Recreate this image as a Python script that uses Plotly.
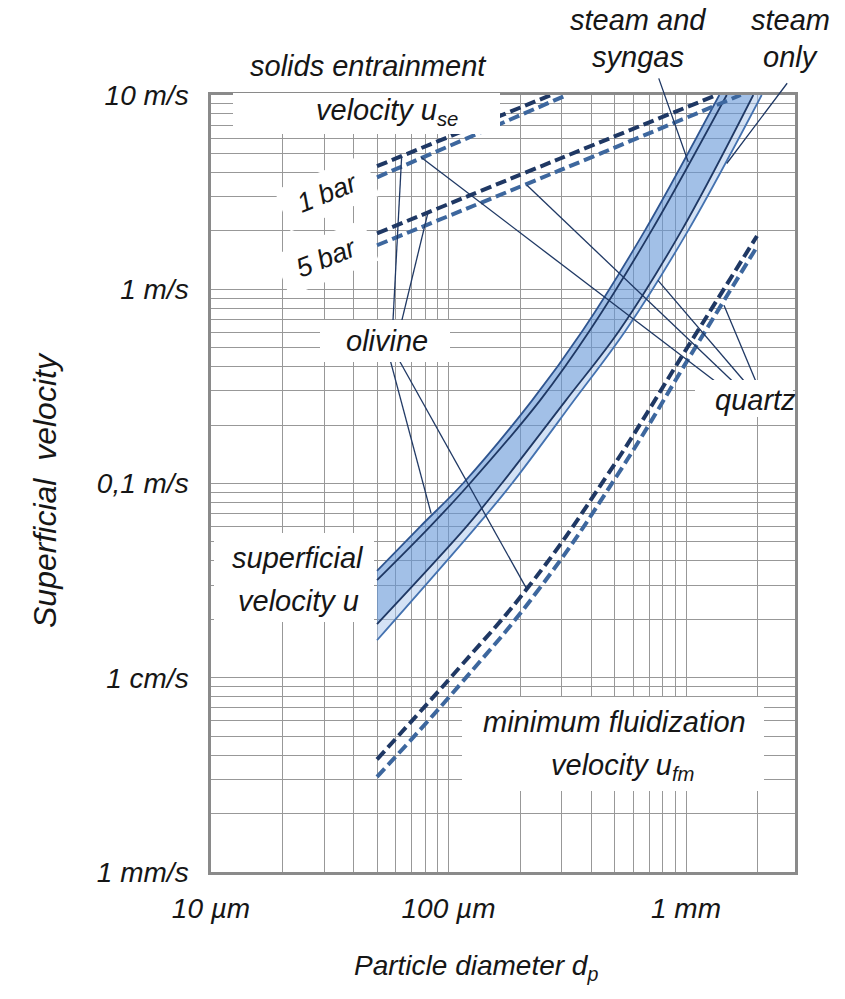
import math
import numpy as np
import plotly.graph_objects as go

# ---------------- data (particle diameter in µm, superficial velocity in m/s) -------------
# superficial velocity band (four boundary curves)
band_a_top_d = [50, 76, 115, 225, 368, 672, 1381]
band_a_top_u = [0.0355, 0.060, 0.100, 0.268, 0.615, 2.01, 10.0]
band_b_top_d = [50, 83.6, 123, 243, 394, 717, 1484]
band_b_top_u = [0.0318, 0.060, 0.100, 0.268, 0.615, 2.01, 10.0]
band_a_bot_d = [50, 119, 167.5, 312, 525, 959, 1920]
band_a_bot_u = [0.0189, 0.060, 0.100, 0.268, 0.615, 2.01, 10.0]
band_b_bot_d = [50, 131, 185, 338, 558, 1022, 2083]
band_b_bot_u = [0.0156, 0.060, 0.100, 0.268, 0.615, 2.01, 10.0]

# minimum fluidization velocity u_fm
umf_olivine_d = [50, 81, 112, 220, 465, 1010, 1990]
umf_olivine_u = [0.0038, 0.0073, 0.0114, 0.0300, 0.1098, 0.498, 1.88]
umf_quartz_d = [50, 112, 243, 511, 1109, 1984]
umf_quartz_u = [0.00309, 0.00925, 0.0291, 0.1093, 0.515, 1.645]

# solids entrainment velocity u_se
use_1bar_olivine_d = [50, 270]
use_1bar_olivine_u = [4.30, 10.0]
use_1bar_quartz_d = [50, 315]
use_1bar_quartz_u = [3.77, 10.0]
use_5bar_olivine_d = [50, 295, 1347]
use_5bar_olivine_u = [1.94, 4.71, 10.0]
use_5bar_quartz_d = [50, 295, 1700]
use_5bar_quartz_u = [1.685, 4.10, 10.0]

# leader lines: label anchor -> curve point
olivine_from_d = [57.8, 60.7, 54.0, 55.6]
olivine_from_u = [0.546, 0.546, 0.546, 0.546]
olivine_to_d = [63.5, 82.0, 84.4, 214]
olivine_to_u = [4.84, 2.49, 0.0704, 0.0285]
quartz_from_d = [1488, 1721, 1896, 2041]
quartz_from_u = [0.302, 0.302, 0.302, 0.302]
quartz_to_d = [76.6, 214, 762, 1445]
quartz_to_u = [4.78, 3.43, 1.11, 0.827]
steam_from_d = [764, 2696]
steam_from_u = [12.4, 11.7]
steam_to_d = [1022, 1484]
steam_to_u = [4.52, 4.44]

# axis ticks
x_tickvals = [10 * k for k in range(1, 10)] + [100 * k for k in range(1, 10)] + [1000, 2000]
x_ticktext = ["10 µm"] + [""] * 8 + ["100 µm"] + [""] * 8 + ["1 mm", ""]
y_tickvals = [round(m * 10.0 ** e, 6) for e in (-3, -2, -1, 0) for m in range(1, 10)] + [10]
y_labels = {0.001: "1 mm/s", 0.01: "1 cm/s", 0.1: "0,1 m/s", 1: "1 m/s", 10: "10 m/s"}
y_ticktext = [y_labels.get(v, "") for v in y_tickvals]

# ---------------- style -------------
FONT = "Liberation Sans, Arial, Helvetica, sans-serif"
NAVY = "#1f3864"
MID = "#3d679e"
TXT = "#161616"
W, H = 845, 999
L, R, T, B = 211, 50, 95, 127
PW, PH = W - L - R, H - T - B


def px(xp):
    return (xp - L) / PW


def py(yp):
    return (H - B - yp) / PH


fig = go.Figure()

# band fills
fig.add_trace(go.Scatter(x=band_a_top_d, y=band_a_top_u, mode="lines",
                         line=dict(width=0, shape="spline", color="rgba(0,0,0,0)"), hoverinfo="skip"))
fig.add_trace(go.Scatter(x=band_a_bot_d, y=band_a_bot_u, mode="lines", fill="tonexty",
                         fillcolor="rgba(100,150,215,0.6)",
                         line=dict(width=0, shape="spline", color="rgba(0,0,0,0)"), hoverinfo="skip"))
fig.add_trace(go.Scatter(x=band_b_bot_d, y=band_b_bot_u, mode="lines", fill="tonexty",
                         fillcolor="rgba(170,198,236,0.5)",
                         line=dict(width=0, shape="spline", color="rgba(0,0,0,0)"), hoverinfo="skip"))

# band lines
for d, u, c, w in [(band_a_top_d, band_a_top_u, "#2f5590", 1.8),
                   (band_b_top_d, band_b_top_u, NAVY, 1.8),
                   (band_a_bot_d, band_a_bot_u, NAVY, 1.8),
                   (band_b_bot_d, band_b_bot_u, "#4472b0", 1.8)]:
    fig.add_trace(go.Scatter(x=d, y=u, mode="lines", line=dict(color=c, width=w, shape="spline"),
                             hoverinfo="skip"))

# dashed curves
dash = "11px,5px"
for d, u, c in [(umf_olivine_d, umf_olivine_u, NAVY), (umf_quartz_d, umf_quartz_u, MID),
                (use_1bar_olivine_d, use_1bar_olivine_u, NAVY), (use_1bar_quartz_d, use_1bar_quartz_u, MID),
                (use_5bar_olivine_d, use_5bar_olivine_u, NAVY), (use_5bar_quartz_d, use_5bar_quartz_u, MID)]:
    fig.add_trace(go.Scatter(x=d, y=u, mode="lines",
                             line=dict(color=c, width=4, dash=dash, shape="spline", smoothing=1.3),
                             hoverinfo="skip"))

# leader lines (inside the plot)
lx, ly = [], []
for fd, fu, td, tu in list(zip(olivine_from_d, olivine_from_u, olivine_to_d, olivine_to_u)) + \
        list(zip(quartz_from_d, quartz_from_u, quartz_to_d, quartz_to_u)):
    lx += [fd, td, None]
    ly += [fu, tu, None]
fig.add_trace(go.Scatter(x=lx, y=ly, mode="lines", line=dict(color=NAVY, width=1.3), hoverinfo="skip"))

# leader lines reaching the labels above the plot
for fd, fu, td, tu in zip(steam_from_d, steam_from_u, steam_to_d, steam_to_u):
    fig.add_annotation(x=math.log10(td), y=math.log10(tu), ax=math.log10(fd), ay=math.log10(fu),
                       xref="x", yref="y", axref="x", ayref="y", text="", showarrow=True,
                       arrowhead=0, arrowwidth=1.3, arrowcolor=NAVY, standoff=0, startstandoff=0)

# white label boxes
def box(x0, y0, x1, y1):
    fig.add_shape(type="rect", xref="paper", yref="paper", x0=px(x0), x1=px(x1), y0=py(y1), y1=py(y0),
                  fillcolor="white", line=dict(width=0), layer="above")


def rbox(cx, cy, length, height, ang):
    a = math.radians(ang)
    ux, uy = math.cos(a), -math.sin(a)
    nx, ny = math.sin(a), math.cos(a)
    pts = []
    for s, t in [(-1, -1), (1, -1), (1, 1), (-1, 1)]:
        xx = cx + s * length / 2 * ux + t * height / 2 * nx
        yy = cy + s * length / 2 * uy + t * height / 2 * ny
        pts.append((px(xx), py(yy)))
    path = "M " + " L ".join(f"{a_:.5f},{b_:.5f}" for a_, b_ in pts) + " Z"
    fig.add_shape(type="path", xref="paper", yref="paper", path=path,
                  fillcolor="white", line=dict(width=0), layer="above")


box(233, 93, 500, 134)
rbox(327, 193, 96, 44, 22)
rbox(326, 258, 96, 44, 22)
box(320, 320, 450, 362)
box(695, 380, 793, 417)
box(214, 533, 374, 622)
box(462, 697, 764, 791)


def label(text, xp, yp, size=29, angle=0):
    fig.add_annotation(text=f"<i>{text}</i>", x=px(xp), y=py(yp), xref="paper", yref="paper",
                       showarrow=False, xanchor="center", yanchor="middle", textangle=angle,
                       font=dict(size=size, color=TXT, family=FONT))


label("solids entrainment", 368, 66)
label("velocity u<sub>se</sub>", 387, 112)
label("1 bar", 327, 193, 27, -22)
label("5 bar", 326, 258, 27, -22)
label("olivine", 387, 341)
label("quartz", 755, 400)
label("steam and", 638, 20)
label("syngas", 638, 57)
label("steam", 790, 20)
label("only", 790, 57)
label("superficial", 298, 558)
label("velocity u", 298, 601)
label("minimum fluidization", 614, 722)
label("velocity u<sub>fm</sub>", 622, 767)
label("Particle diameter d<sub>p</sub>", 476, 967, 28)
label("Superficial&nbsp;&nbsp;velocity", 45, 490, 32, -90)

axis_common = dict(type="log", showgrid=True, gridcolor="#989898", gridwidth=1.4,
                   showline=True, linecolor="#8a8a8a", linewidth=2.5, mirror=True,
                   ticks="", zeroline=False,
                   tickfont=dict(size=28, color=TXT, family=FONT, style="italic"))
fig.update_xaxes(range=[1, math.log10(2877)], tickvals=x_tickvals, ticktext=x_ticktext,
                 ticklabelstandoff=10, **axis_common)
fig.update_yaxes(range=[-3, 1], tickvals=y_tickvals, ticktext=y_ticktext,
                 ticklabelstandoff=14, **axis_common)

fig.update_layout(width=W, height=H, autosize=False, margin=dict(l=L, r=R, t=T, b=B),
                  paper_bgcolor="white", plot_bgcolor="white", showlegend=False,
                  font=dict(family=FONT, color=TXT))

fig.write_html("out.html")
